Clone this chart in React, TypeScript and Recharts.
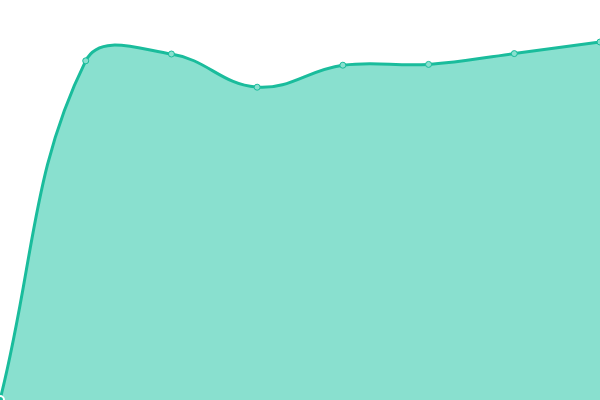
import { Area, AreaChart, XAxis, YAxis } from "recharts";

const categories = ["1", "2", "3", "4", "5", "6", "7", "8"];
const values = [0, 84.8, 86.5, 78.2, 83.7, 83.9, 86.6, 89.5];

const data = categories.map((name, i) => ({ name, value: values[i] }));

// spline with tension, control points from neighbours (like chart.js default)
const TENSION = 0.4;

function tensionCurve(context: any) {
  let line = NaN;
  let pts: [number, number][] = [];
  const draw = () => {
    const n = pts.length;
    if (!n) return;
    const cps = pts.map((cur, i) => {
      const prev = pts[i - 1] || cur;
      const next = pts[i + 1] || cur;
      const d01 = Math.hypot(cur[0] - prev[0], cur[1] - prev[1]);
      const d12 = Math.hypot(next[0] - cur[0], next[1] - cur[1]);
      let s01 = d01 / (d01 + d12);
      let s12 = d12 / (d01 + d12);
      if (isNaN(s01)) s01 = 0;
      if (isNaN(s12)) s12 = 0;
      const fa = TENSION * s01;
      const fb = TENSION * s12;
      return {
        inX: cur[0] - fa * (next[0] - prev[0]),
        inY: cur[1] - fa * (next[1] - prev[1]),
        outX: cur[0] + fb * (next[0] - prev[0]),
        outY: cur[1] + fb * (next[1] - prev[1]),
      };
    });
    if (line) context.lineTo(pts[0][0], pts[0][1]);
    else context.moveTo(pts[0][0], pts[0][1]);
    for (let i = 1; i < n; i++) {
      context.bezierCurveTo(cps[i - 1].outX, cps[i - 1].outY, cps[i].inX, cps[i].inY, pts[i][0], pts[i][1]);
    }
  };
  return {
    areaStart() {
      line = 0;
    },
    areaEnd() {
      line = NaN;
    },
    lineStart() {
      pts = [];
    },
    lineEnd() {
      draw();
      if (line || (line !== 0 && pts.length === 1)) context.closePath();
      line = 1 - line;
    },
    point(x: number, y: number) {
      pts.push([+x, +y]);
    },
  };
}

export default function App() {
  return (
    <div style={{ position: "absolute", left: 0, top: 0 }}>
      <AreaChart width={600} height={400} data={data} margin={{ top: 0, right: 0, bottom: 0, left: 0 }}>
        <XAxis dataKey="name" hide />
        <YAxis hide domain={[0, 100]} />
        <Area
          type={tensionCurve as any}
          dataKey="value"
          stroke="#1abc9c"
          strokeWidth={3}
          fill="#89e0cf"
          fillOpacity={1}
          dot={{ r: 3, fill: "#89e0cf", stroke: "#1abc9c", strokeWidth: 1, fillOpacity: 1 }}
          isAnimationActive={false}
        />
      </AreaChart>
    </div>
  );
}
